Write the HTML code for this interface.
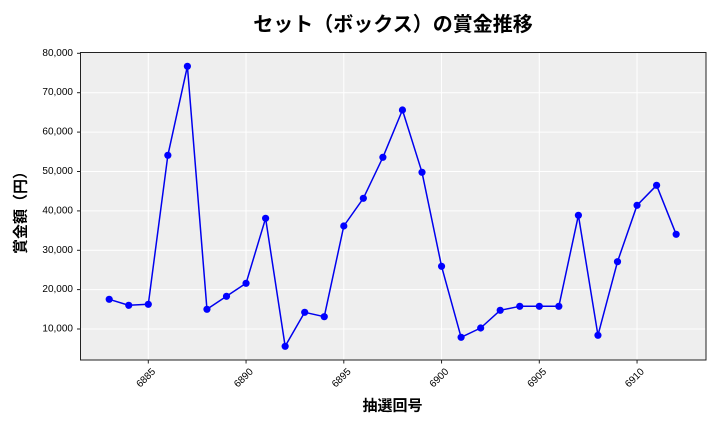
<!DOCTYPE html>
<html>
<head>
<meta charset="utf-8">
<style>
  html, body { margin: 0; padding: 0; background: #ffffff; }
  svg { display: block; }
  .tick { font-family: "Liberation Sans", "DejaVu Sans", sans-serif; fill: #000; }
  .cjk { font-family: "Liberation Sans", "Noto Sans CJK JP", sans-serif; fill: #000; }
</style>
</head>
<body>
<svg width="720" height="432" viewBox="0 0 720 432" xmlns="http://www.w3.org/2000/svg">
  <rect x="0" y="0" width="720" height="432" fill="#ffffff"/>
  <rect x="80.5" y="52.5" width="625.5" height="307.5" fill="#eeeeee"/>
  <g stroke="#ffffff" stroke-width="1">
    <line x1="148.3" y1="52.5" x2="148.3" y2="360"/>
    <line x1="246.05" y1="52.5" x2="246.05" y2="360"/>
    <line x1="343.8" y1="52.5" x2="343.8" y2="360"/>
    <line x1="441.55" y1="52.5" x2="441.55" y2="360"/>
    <line x1="539.3" y1="52.5" x2="539.3" y2="360"/>
    <line x1="637.05" y1="52.5" x2="637.05" y2="360"/>
    <line x1="80.5" y1="92.7" x2="706" y2="92.7"/>
    <line x1="80.5" y1="132.1" x2="706" y2="132.1"/>
    <line x1="80.5" y1="171.5" x2="706" y2="171.5"/>
    <line x1="80.5" y1="210.9" x2="706" y2="210.9"/>
    <line x1="80.5" y1="250.3" x2="706" y2="250.3"/>
    <line x1="80.5" y1="289.6" x2="706" y2="289.6"/>
    <line x1="80.5" y1="329.0" x2="706" y2="329.0"/>
  </g>
  <rect x="80.5" y="52.5" width="625.5" height="307.5" fill="none" stroke="#222222" stroke-width="1"/>
  <g stroke="#222222" stroke-width="1">
    <line x1="77" y1="53.3" x2="80.5" y2="53.3"/>
    <line x1="77" y1="92.7" x2="80.5" y2="92.7"/>
    <line x1="77" y1="132.1" x2="80.5" y2="132.1"/>
    <line x1="77" y1="171.5" x2="80.5" y2="171.5"/>
    <line x1="77" y1="210.9" x2="80.5" y2="210.9"/>
    <line x1="77" y1="250.3" x2="80.5" y2="250.3"/>
    <line x1="77" y1="289.6" x2="80.5" y2="289.6"/>
    <line x1="77" y1="329.0" x2="80.5" y2="329.0"/>
    <line x1="148.3" y1="360" x2="148.3" y2="363.5"/>
    <line x1="246.05" y1="360" x2="246.05" y2="363.5"/>
    <line x1="343.8" y1="360" x2="343.8" y2="363.5"/>
    <line x1="441.55" y1="360" x2="441.55" y2="363.5"/>
    <line x1="539.3" y1="360" x2="539.3" y2="363.5"/>
    <line x1="637.05" y1="360" x2="637.05" y2="363.5"/>
  </g>
  <g class="tick" font-size="10" text-anchor="end" dominant-baseline="central">
    <text x="73" y="53.3">80,000</text>
    <text x="73" y="92.7">70,000</text>
    <text x="73" y="132.1">60,000</text>
    <text x="73" y="171.5">50,000</text>
    <text x="73" y="210.9">40,000</text>
    <text x="73" y="250.3">30,000</text>
    <text x="73" y="289.6">20,000</text>
    <text x="73" y="329.0">10,000</text>
  </g>
  <g class="tick" font-size="10" text-anchor="middle" dominant-baseline="central">
    <text transform="translate(146.3,378.3) rotate(-45)">6885</text>
    <text transform="translate(244,378.3) rotate(-45)">6890</text>
    <text transform="translate(341.8,378.3) rotate(-45)">6895</text>
    <text transform="translate(439.5,378.3) rotate(-45)">6900</text>
    <text transform="translate(537.3,378.3) rotate(-45)">6905</text>
    <text transform="translate(635,378.3) rotate(-45)">6910</text>
  </g>
  <polyline fill="none" stroke="#0000ee" stroke-width="1.5" stroke-linejoin="round"
    points="109.2,299.3 128.75,305.3 148.3,304.3 167.85,155.3 187.4,66.3 206.95,309.3 226.5,296.3 246.05,283.3 265.6,218.3 285.15,346.3 304.7,312.3 324.25,316.7 343.8,226 363.35,198.3 382.9,157.3 402.45,110 422,172.3 441.55,266.3 461.1,337.3 480.65,328 500.2,310.3 519.75,306.3 539.3,306.3 558.85,306.3 578.4,215.3 597.95,335.3 617.5,261.7 637.05,205.3 656.6,185.3 676.15,234.3"/>
  <g fill="#0000ff">
    <circle cx="109.2" cy="299.3" r="3.6"/>
    <circle cx="128.75" cy="305.3" r="3.6"/>
    <circle cx="148.3" cy="304.3" r="3.6"/>
    <circle cx="167.85" cy="155.3" r="3.6"/>
    <circle cx="187.4" cy="66.3" r="3.6"/>
    <circle cx="206.95" cy="309.3" r="3.6"/>
    <circle cx="226.5" cy="296.3" r="3.6"/>
    <circle cx="246.05" cy="283.3" r="3.6"/>
    <circle cx="265.6" cy="218.3" r="3.6"/>
    <circle cx="285.15" cy="346.3" r="3.6"/>
    <circle cx="304.7" cy="312.3" r="3.6"/>
    <circle cx="324.25" cy="316.7" r="3.6"/>
    <circle cx="343.8" cy="226" r="3.6"/>
    <circle cx="363.35" cy="198.3" r="3.6"/>
    <circle cx="382.9" cy="157.3" r="3.6"/>
    <circle cx="402.45" cy="110" r="3.6"/>
    <circle cx="422" cy="172.3" r="3.6"/>
    <circle cx="441.55" cy="266.3" r="3.6"/>
    <circle cx="461.1" cy="337.3" r="3.6"/>
    <circle cx="480.65" cy="328" r="3.6"/>
    <circle cx="500.2" cy="310.3" r="3.6"/>
    <circle cx="519.75" cy="306.3" r="3.6"/>
    <circle cx="539.3" cy="306.3" r="3.6"/>
    <circle cx="558.85" cy="306.3" r="3.6"/>
    <circle cx="578.4" cy="215.3" r="3.6"/>
    <circle cx="597.95" cy="335.3" r="3.6"/>
    <circle cx="617.5" cy="261.7" r="3.6"/>
    <circle cx="637.05" cy="205.3" r="3.6"/>
    <circle cx="656.6" cy="185.3" r="3.6"/>
    <circle cx="676.15" cy="234.3" r="3.6"/>
  </g>
  <text class="cjk" x="393" y="25" font-size="20" font-weight="bold" text-anchor="middle" dominant-baseline="central">セット（ボックス）の賞金推移</text>
  <text class="cjk" x="392.5" y="406" font-size="15" font-weight="bold" text-anchor="middle" dominant-baseline="central">抽選回号</text>
  <text class="cjk" transform="translate(21,209) rotate(-90)" font-size="15" font-weight="bold" text-anchor="middle" dominant-baseline="central">賞金額（円）</text>
</svg>
</body>
</html>
